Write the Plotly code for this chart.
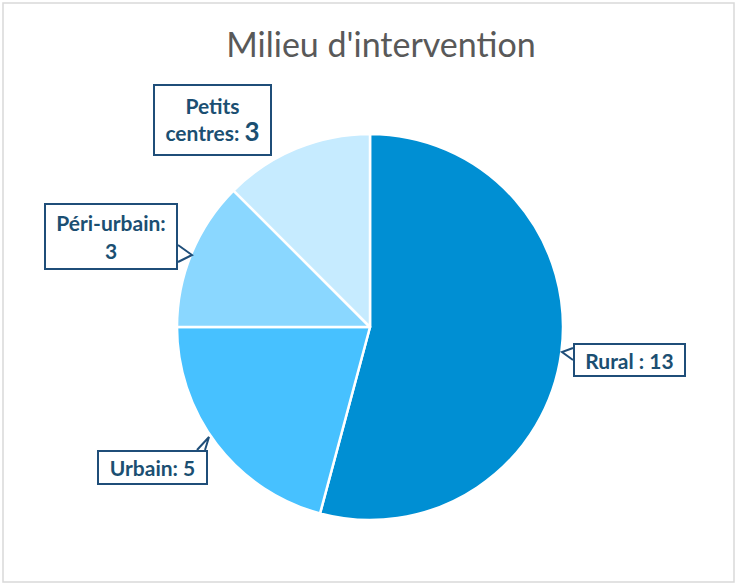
import plotly.graph_objects as go

categories = ["Rural", "Urbain", "Péri-urbain", "Petits centres"]
values = [13, 5, 3, 3]
colors = ["#008FD3", "#47C1FF", "#8AD7FF", "#C6EBFF"]
label_texts = ["Rural : 13", "Urbain: 5", "Péri-urbain:<br>3", "Petits<br>centres: <span style='font-size:26px'>3</span>"]

W, H = 737, 585

def px(x):
    return x / W

def py(y):
    return 1 - y / H

cx, cy, r = 370, 327, 193

fig = go.Figure(go.Pie(
    labels=categories,
    values=values,
    sort=False,
    direction="clockwise",
    rotation=0,
    marker=dict(colors=colors, line=dict(color="white", width=2.5)),
    textinfo="none",
    hoverinfo="label+value",
    showlegend=False,
    domain=dict(x=[px(cx - r), px(cx + r)], y=[py(cy + r), py(cy - r)]),
))

font_lbl = dict(family="Lato, Open Sans, sans-serif", size=21, color="#1B4F72")
# label boxes: (x0, y0, x1, y1) in pixels
boxes = [
    (573, 343, 686, 377),
    (97, 450, 208, 485),
    (44, 203, 178, 270),
    (153, 84, 272, 156),
]
annotations = []
for t, (x0, y0, x1, y1) in zip(label_texts, boxes):
    annotations.append(dict(
        x=px((x0 + x1) / 2), y=py((y0 + y1) / 2), xref="paper", yref="paper",
        text="<b>" + t + "</b>", showarrow=False, font=font_lbl,
        bgcolor="white", bordercolor="#1F4E79", borderwidth=2,
        width=x1 - x0 - 6, height=y1 - y0 - 6, align="center", valign="middle",
        xanchor="center", yanchor="middle",
    ))

fig.add_shape(type="rect", xref="paper", yref="paper", x0=px(3), x1=px(734), y0=py(582), y1=py(3),
              line=dict(color="#D9D9D9", width=1.5), fillcolor="rgba(0,0,0,0)", layer="below")

# callout tails: (base start, tip, base end, inward offset to cover the box border)
tails = [
    [(573, 348), (562, 352), (573, 360), (3, 0)],
    [(197, 450), (209, 437), (205, 450), (0, 3)],
    [(178, 245), (192, 255), (178, 262), (-3, 0)],
]
for (a, tip, b, (dx, dy)) in tails:
    cover = [(a[0] + dx, a[1] + dy), a, tip, b, (b[0] + dx, b[1] + dy)]
    path = "M " + " L ".join(f"{px(x)},{py(y)}" for x, y in cover) + " Z"
    fig.add_shape(type="path", xref="paper", yref="paper", path=path,
                  fillcolor="white", line=dict(width=0))
    edge = "M " + " L ".join(f"{px(x)},{py(y)}" for x, y in [a, tip, b])
    fig.add_shape(type="path", xref="paper", yref="paper", path=edge,
                  line=dict(color="#1F4E79", width=2))

fig.update_layout(
    width=W, height=H,
    margin=dict(l=0, r=0, t=0, b=0),
    paper_bgcolor="white",
    title=dict(text="Milieu d'intervention", x=px(381), y=py(45), xanchor="center", yanchor="middle",
               font=dict(family="Lato, Open Sans, sans-serif", size=34, color="#595959")),
    annotations=annotations,
)

fig.write_html("out.html", config={"displayModeBar": False},
               post_script="document.body.style.margin='0';document.body.style.overflow='hidden';")
